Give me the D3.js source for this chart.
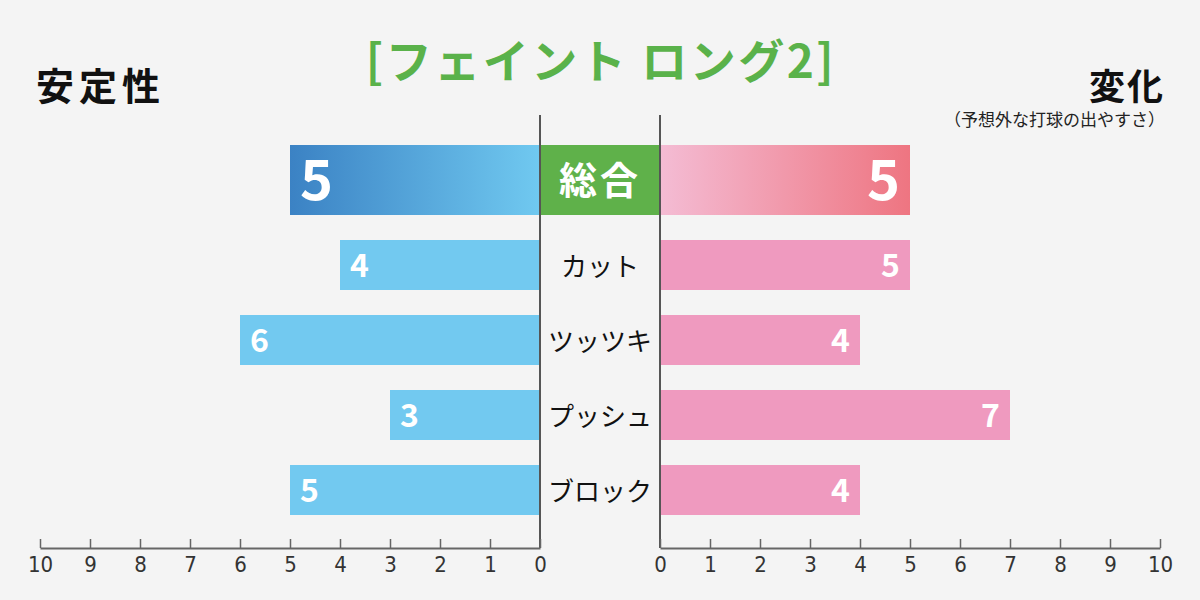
<!DOCTYPE html>
<html>
<head>
<meta charset="utf-8">
<script src="https://cdn.jsdelivr.net/npm/d3@7"></script>
<style>
  body { margin: 0; background: #f4f4f4; }
  svg { display: block; font-family: "Noto Sans CJK JP", "Noto Sans", sans-serif; }
  .tick text { font-family: "Liberation Sans Narrow", "DejaVu Sans Condensed", "Roboto", sans-serif; font-size: 22px; fill: #333; }
</style>
</head>
<body>
<svg id="chart" width="1200" height="600"></svg>
<script>
// data
var totalLabel = "総合"
var totalStability = 5
var totalVariation = 5
var categories = ["カット", "ツッツキ", "プッシュ", "ブロック"]
var stability = [4, 6, 3, 5]
var variation = [5, 4, 7, 4]
var tickValues = [0, 1, 2, 3, 4, 5, 6, 7, 8, 9, 10]

var width = 1200, height = 600
var axisY = 548

var svg = d3.select("#chart")

// scales
var xLeft = d3.scaleLinear().domain([10, 0]).range([40, 540])
var xRight = d3.scaleLinear().domain([0, 10]).range([660, 1160])
var y = d3.scaleBand().domain(categories).range([215, 540]).padding(1 / 3)
var totalTop = 145, totalH = 70

svg.append("rect").attr("width", width).attr("height", height).attr("fill", "#f4f4f4")

// gradients
var defs = svg.append("defs")
var gBlue = defs.append("linearGradient").attr("id", "gBlue").attr("x1", "0%").attr("x2", "100%")
gBlue.append("stop").attr("offset", "0%").attr("stop-color", "#3b82c4")
gBlue.append("stop").attr("offset", "100%").attr("stop-color", "#70c9f0")
var gPink = defs.append("linearGradient").attr("id", "gPink").attr("x1", "0%").attr("x2", "100%")
gPink.append("stop").attr("offset", "0%").attr("stop-color", "#f4bcd4")
gPink.append("stop").attr("offset", "100%").attr("stop-color", "#ee7581")

// title
svg.append("text")
    .attr("x", 601).attr("y", 78)
    .attr("text-anchor", "middle")
    .attr("fill", "#5ab24a")
    .style("font-size", "46px").style("font-weight", "bold").style("letter-spacing", "2.5px")
    .text("[フェイント ロング2]")

svg.append("text")
    .attr("x", 36).attr("y", 100)
    .attr("fill", "#111")
    .style("font-size", "38px").style("font-weight", "bold").style("letter-spacing", "5px")
    .text("安定性")

svg.append("text")
    .attr("x", 1165).attr("y", 100)
    .attr("text-anchor", "end")
    .attr("fill", "#111")
    .style("font-size", "36px").style("font-weight", "bold").style("letter-spacing", "2px")
    .text("変化")

svg.append("text")
    .attr("x", 1165).attr("y", 126)
    .attr("text-anchor", "end")
    .attr("fill", "#222")
    .style("font-size", "17px")
    .text("（予想外な打球の出やすさ）")

// total row
svg.append("rect")
    .attr("x", xLeft(totalStability)).attr("y", totalTop)
    .attr("width", xLeft(0) - xLeft(totalStability)).attr("height", totalH)
    .attr("fill", "url(#gBlue)")
svg.append("rect")
    .attr("x", xRight(0)).attr("y", totalTop)
    .attr("width", xRight(totalVariation) - xRight(0)).attr("height", totalH)
    .attr("fill", "url(#gPink)")
svg.append("rect")
    .attr("x", xLeft(0)).attr("y", totalTop)
    .attr("width", xRight(0) - xLeft(0)).attr("height", totalH)
    .attr("fill", "#5fb14a")
svg.append("text")
    .attr("x", 600).attr("y", totalTop + totalH / 2)
    .attr("dy", "0.36em")
    .attr("text-anchor", "middle").attr("fill", "#fff")
    .style("font-size", "38px").style("font-weight", "bold").style("letter-spacing", "3px")
    .text(totalLabel)
svg.append("text")
    .attr("x", xLeft(totalStability) + 10).attr("y", totalTop + totalH / 2)
    .attr("dy", "0.36em").attr("fill", "#fff")
    .style("font-size", "56px").style("font-weight", "bold")
    .text(totalStability)
svg.append("text")
    .attr("x", xRight(totalVariation) - 10).attr("y", totalTop + totalH / 2)
    .attr("dy", "0.36em").attr("text-anchor", "end").attr("fill", "#fff")
    .style("font-size", "56px").style("font-weight", "bold")
    .text(totalVariation)

// category bars
var rows = categories.map(function(c, i) { return {cat: c, s: stability[i], v: variation[i]} })

svg.append("g").selectAll("rect")
    .data(rows).enter().append("rect")
    .attr("x", function(d) { return xLeft(d.s) })
    .attr("y", function(d) { return y(d.cat) })
    .attr("width", function(d) { return xLeft(0) - xLeft(d.s) })
    .attr("height", y.bandwidth())
    .attr("fill", "#72c9f0")

svg.append("g").selectAll("rect")
    .data(rows).enter().append("rect")
    .attr("x", xRight(0))
    .attr("y", function(d) { return y(d.cat) })
    .attr("width", function(d) { return xRight(d.v) - xRight(0) })
    .attr("height", y.bandwidth())
    .attr("fill", "#ef9abf")

svg.append("g").selectAll("text")
    .data(rows).enter().append("text")
    .attr("x", function(d) { return xLeft(d.s) + 10 })
    .attr("y", function(d) { return y(d.cat) + y.bandwidth() / 2 })
    .attr("dy", "0.36em").attr("fill", "#fff")
    .style("font-size", "32px").style("font-weight", "bold")
    .text(function(d) { return d.s })

svg.append("g").selectAll("text")
    .data(rows).enter().append("text")
    .attr("x", function(d) { return xRight(d.v) - 10 })
    .attr("y", function(d) { return y(d.cat) + y.bandwidth() / 2 })
    .attr("dy", "0.36em").attr("text-anchor", "end").attr("fill", "#fff")
    .style("font-size", "32px").style("font-weight", "bold")
    .text(function(d) { return d.v })

svg.append("g").selectAll("text")
    .data(rows).enter().append("text")
    .attr("x", 600)
    .attr("y", function(d) { return y(d.cat) + y.bandwidth() / 2 + 2 })
    .attr("dy", "0.36em").attr("text-anchor", "middle").attr("fill", "#111")
    .style("font-size", "26px").style("font-weight", "normal")
    .text(function(d) { return d.cat })

// divider lines
svg.append("line")
    .attr("x1", xLeft(0)).attr("x2", xLeft(0)).attr("y1", 115).attr("y2", axisY)
    .attr("stroke", "#555").attr("stroke-width", 2)
svg.append("line")
    .attr("x1", xRight(0)).attr("x2", xRight(0)).attr("y1", 115).attr("y2", axisY)
    .attr("stroke", "#555").attr("stroke-width", 2)

// axes
function styleAxis(g) {
    g.select(".domain").attr("stroke", "#666").attr("stroke-width", 2)
    g.selectAll(".tick line").attr("stroke", "#666").attr("stroke-width", 1.5)
    g.selectAll(".tick text").attr("fill", "#333")
}

svg.append("g")
    .attr("transform", "translate(0," + axisY + ")")
    .call(d3.axisBottom(xLeft).tickValues(tickValues).tickSizeInner(-9).tickSizeOuter(0).tickPadding(8))
    .call(styleAxis)

svg.append("g")
    .attr("transform", "translate(0," + axisY + ")")
    .call(d3.axisBottom(xRight).tickValues(tickValues).tickSizeInner(-9).tickSizeOuter(0).tickPadding(8))
    .call(styleAxis)
</script>
</body>
</html>
